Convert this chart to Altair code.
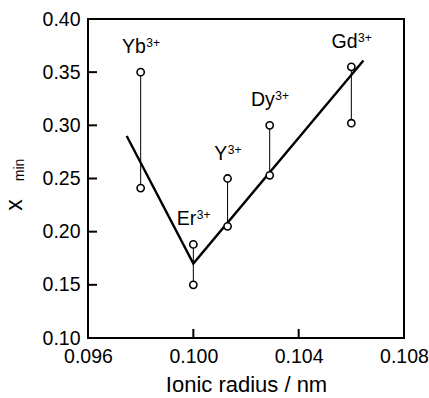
import altair as alt
import pandas as pd

# ---- data ----
ions = ["Yb", "Er", "Y", "Dy", "Gd"]
charge = "3+"
radius = [0.0980, 0.1000, 0.1013, 0.1029, 0.1060]
x_upper = [0.350, 0.188, 0.250, 0.300, 0.355]
x_lower = [0.241, 0.150, 0.205, 0.253, 0.302]

fit_r = [0.09747, 0.1000, 0.10646]
fit_x = [0.290, 0.170, 0.361]

xtick_vals = [0.096, 0.100, 0.104, 0.108]
ytick_vals = [0.10, 0.15, 0.20, 0.25, 0.30, 0.35, 0.40]
inner_xticks = [0.100, 0.104]
inner_yticks = [0.15, 0.20, 0.25, 0.30, 0.35]

FONT = "Liberation Sans"
W, H = 316, 319
LBL, SUP = 19.5, 12

# approximate Arial advance widths (em) to centre "base + superscript" labels
ADV = {"Y": .667, "b": .556, "E": .667, "r": .333, "D": .722, "y": .5,
       "G": .778, "d": .556, "3": .556, "+": .584}


def text_w(s, size):
    return sum(ADV.get(c, .556) for c in s) * size


pairs = pd.DataFrame({"ion": ions, "r": radius, "hi": x_upper, "lo": x_lower})
pts = pd.DataFrame({"r": radius + radius, "x": x_upper + x_lower})
fit = pd.DataFrame({"r": fit_r, "x": fit_x})
xt = pd.DataFrame({"v": inner_xticks})
yt = pd.DataFrame({"v": inner_yticks})

xscale = alt.Scale(domain=[0.096, 0.108], nice=False, zero=False)
yscale = alt.Scale(domain=[0.10, 0.40], nice=False, zero=False)

xaxis = alt.Axis(values=xtick_vals, format=".3f", labelFontSize=19.5, ticks=False,
                 domain=False, grid=False, labelPadding=9, labelColor="black",
                 title="Ionic radius / nm", titleFontSize=22, titleFontWeight="normal",
                 titleColor="black", titlePadding=9, labelFlush=False)
yaxis = alt.Axis(values=ytick_vals, format=".2f", labelFontSize=19.5, ticks=False,
                 domain=False, grid=False, labelPadding=8, labelColor="black",
                 title=None, labelFlush=False)

X = alt.X("r:Q", scale=xscale, axis=xaxis)
Y = alt.Y("x:Q", scale=yscale, axis=yaxis)

connectors = alt.Chart(pairs).mark_rule(color="black", strokeWidth=1).encode(
    x=X, y=alt.Y("lo:Q", scale=yscale, axis=yaxis), y2="hi:Q",
)

fit_line = alt.Chart(fit).mark_line(color="black", strokeWidth=2.4).encode(x=X, y=Y)

points = alt.Chart(pts).mark_point(shape="circle", filled=True, fill="white",
                                   stroke="black", strokeWidth=1.6, size=52,
                                   opacity=1).encode(x=X, y=Y)

label_layers = []
for i, ion in enumerate(ions):
    one_row = pairs.iloc[[i]]
    wb = text_w(ion, LBL)
    ws = text_w(charge, SUP)
    joint = (wb - ws) / 2
    base = alt.Chart(one_row).mark_text(
        fontSize=LBL, font=FONT, color="black", align="right",
        baseline="alphabetic", dx=joint, dy=-19).encode(
        x=X, y=alt.Y("hi:Q", scale=yscale, axis=yaxis), text="ion:N")
    sup = alt.Chart(one_row).mark_text(
        text=charge, fontSize=SUP, font=FONT, color="black", align="left",
        baseline="alphabetic", dx=joint + 0.5, dy=-25).encode(
        x=X, y=alt.Y("hi:Q", scale=yscale, axis=yaxis))
    label_layers += [base, sup]

yticks_in = alt.Chart(yt).mark_rule(color="black", strokeWidth=2).encode(
    y=alt.Y("v:Q", scale=yscale, axis=yaxis),
    x=alt.value(0), x2=alt.value(9),
)
xticks_in = alt.Chart(xt).mark_rule(color="black", strokeWidth=2).encode(
    x=alt.X("v:Q", scale=xscale, axis=xaxis),
    y=alt.value(H), y2=alt.value(H - 9),
)

one = alt.Data(values=[{"a": 1}])
ytitle_main = alt.Chart(one).mark_text(text="x", angle=270, fontSize=23, font=FONT,
                                       color="black", align="center",
                                       baseline="middle").encode(
    x=alt.value(-73), y=alt.value(186))
ytitle_sub = alt.Chart(one).mark_text(text="min", angle=270, fontSize=14, font=FONT,
                                      color="black", align="center",
                                      baseline="middle").encode(
    x=alt.value(-68), y=alt.value(151))

chart = alt.layer(
    connectors, fit_line, points, *label_layers, yticks_in, xticks_in,
    ytitle_main, ytitle_sub
).properties(
    width=W, height=H,
    autosize=alt.AutoSizeParams(type="none"),
    padding={"left": 88, "top": 19, "right": 25, "bottom": 60},
    background="white",
).configure(font=FONT).configure_view(stroke="black", strokeWidth=2)

chart.save("out.html", embed_options={"renderer": "svg", "actions": False})
